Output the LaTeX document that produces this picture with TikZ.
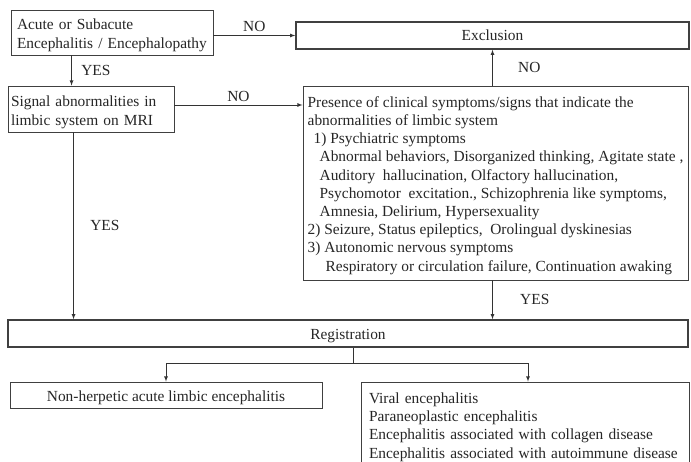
\documentclass[tikz,border=0pt]{standalone}
\usepackage{fontspec}
\setmainfont{Liberation Serif}
\usetikzlibrary{positioning}

\begin{document}
\begin{tikzpicture}[x=1pt, y=-1pt, font=\fontsize{15.4}{18.2}\selectfont, text=black!85]
	\tikzstyle{box}=[rectangle, draw=black!75, line width=0.9pt, inner sep=0pt]
	\tikzstyle{wide}=[box, line width=1.5pt, text depth=0pt]
	\tikzstyle{connect}=[-latex, line width=0.8pt, draw=black!80]
	\useasboundingbox[fill=white] (0,0) rectangle (691,462);
	% boxes
	\node[box, minimum width=202, minimum height=45, text width=190, text height=16pt, align=left, font=\fontsize{15.4}{19}\selectfont] (acute) at (112,32.5) {Acute or Subacute\\Encephalitis / Encephalopathy};
	\node[box, minimum width=166, minimum height=46, text width=160, text height=17pt, align=left, font=\fontsize{15.4}{19}\selectfont] (mri) at (91,109) {Signal abnormalities in\\limbic system on MRI};
	\node[wide, minimum width=393, minimum height=27] (excl) at (492.5,35.5) {Exclusion};
	\node[box, minimum width=385, minimum height=194, text height=179.5pt, align=left] (presence) at (495.5,183) {Presence of clinical symptoms/signs that indicate the\\
		abnormalities of limbic system\\
		\hspace*{6pt}1) Psychiatric symptoms\\
		\hspace*{12pt}Abnormal behaviors, Disorganized thinking, Agitate state ,\\
		\hspace*{12pt}Auditory\ \ hallucination, Olfactory hallucination,\\
		\hspace*{12pt}Psychomotor\ \ excitation.,\ Schizophrenia like symptoms,\\
		\hspace*{12pt}Amnesia, Delirium, Hypersexuality\\
		2) Seizure, Status epileptics,\ \ Orolingual dyskinesias\\
		3) Autonomic nervous symptoms\\
		\hspace*{18pt}Respiratory or circulation failure, Continuation awaking};
	\node[wide, minimum width=680, minimum height=27, text height=12pt] (registration) at (348,333.5) {Registration};
	\node[box, minimum width=312, minimum height=26, text height=13pt, text depth=0pt] (nonherp) at (166,395) {Non-herpetic acute limbic encephalitis};
	\node[box, minimum width=328, minimum height=86, text width=312, text height=15pt, align=left] (others) at (525,425) {Viral encephalitis\\
		Paraneoplastic encephalitis\\
		Encephalitis associated with collagen disease\\
		Encephalitis associated with autoimmune disease};
	% connectors
	\coordinate (a1) at ([xshift=61pt]acute.south west);
	\coordinate (m1) at ([yshift=4pt]mri.east);
	\coordinate (m2) at ([xshift=66pt]mri.south west);
	\coordinate (p1) at (excl.south |- presence.north);
	\coordinate (p2) at (excl.south |- presence.south);
	\coordinate (split) at (353,363);
	\path
	(acute.east |- excl.west) edge [connect] node[above] {NO} (excl.west)
	(a1) edge [connect] node[right=6pt] {YES} (a1 |- mri.north)
	(m1) edge [connect] node[above] {NO} (m1 -| presence.west)
	(p1) edge [connect] node[right=22pt] {NO} (excl.south)
	(m2) edge [connect] node[right=13pt] {YES} (m2 |- registration.north)
	(p2) edge [connect] node[right=24pt] {YES} (p2 |- registration.north);
	\draw[line width=0.8pt, draw=black!80] (split |- registration.south) -- (split);
	\draw[connect] (split) -| (nonherp.north);
	\draw[connect] (split) -| ([xshift=3pt]others.north);
\end{tikzpicture}
\end{document}
